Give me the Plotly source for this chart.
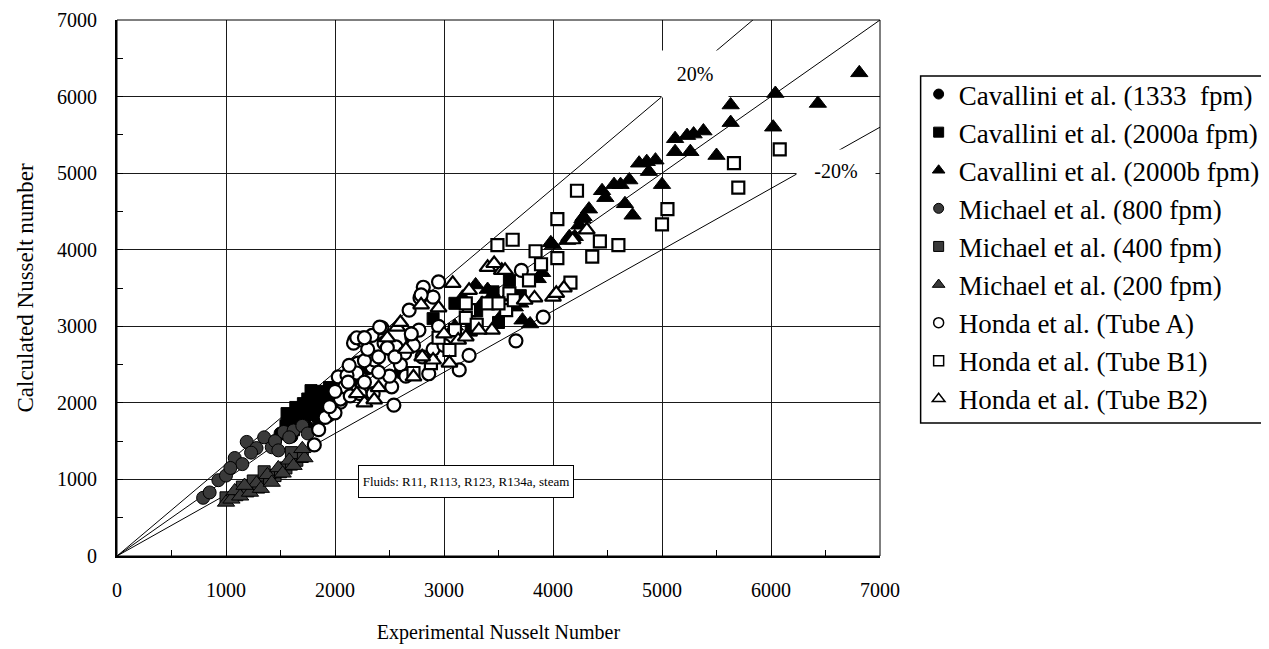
import plotly.graph_objects as go

# ---------------- data ----------------
cav1333_x = [1450, 1500, 1560, 1600, 1640, 1700, 1750, 1800, 1850, 1900, 1960, 2000, 2100, 2200, 2300, 2500, 2600, 2700]
cav1333_y = [1500, 1600, 1650, 1560, 1700, 1760, 1680, 1850, 1780, 1920, 1900, 2050, 2200, 2300, 2450, 2700, 2400, 2850]

cav2000a_x = [1550, 1580, 1600, 1620, 1650, 1680, 1700, 1720, 1750, 1760, 1800, 1830, 1850, 1880, 1900, 1950,
              1560, 1640, 1710, 1780,
              2900, 3100, 3250, 3300, 3450, 3500, 3600, 3700]
cav2000a_y = [1700, 1780, 1760, 1650, 1820, 1700, 1880, 1790, 2050, 1950, 2020, 2100, 1900, 2150, 2060, 2200,
              1860, 1940, 1990, 2160,
              3100, 3300, 2950, 3200, 3450, 3050, 3600, 3400]

cav2000b_x = [6810, 6040, 6430, 5630, 5630, 6020, 5500, 5120, 5230, 5290, 5380, 5120, 5260, 4790, 4860, 4940,
              4880, 5000, 4700, 4620, 4560, 4450, 4480, 4660, 4730, 4330, 4270, 4240, 4150, 4200, 4000, 4130,
              4280, 3290, 3170, 3400, 3350, 3650, 3720, 3790, 3700, 3550, 3980, 3860, 3450, 3100, 3580, 3900]
cav2000b_y = [6310, 6040, 5910, 5890, 5660, 5600, 5230, 5450, 5490, 5510, 5550, 5280, 5280, 5130, 5150, 5170,
              5020, 4850, 4910, 4850, 4850, 4770, 4680, 4600, 4450, 4530, 4400, 4320, 4170, 4170, 4060, 4120,
              4430, 3540, 3380, 3480, 3300, 3250, 3080, 3030, 3300, 3180, 4090, 3620, 3420, 3000, 3380, 3700]

mich800_x = [790, 850, 930, 1000, 1080, 1150, 1190, 1280, 1350, 1360, 1420, 1450, 1530, 1620, 1700, 1750,
             1040, 1230, 1480, 1580]
mich800_y = [760, 830, 990, 1050, 1280, 1200, 1490, 1410, 1550, 1030, 1420, 1500, 1620, 1640, 1700, 1600,
             1150, 1350, 1380, 1550]

mich400_x = [1000, 1100, 1150, 1200, 1250, 1300, 1400, 1450, 1500, 1550, 1600, 1650, 1700, 1350, 1600]
mich400_y = [760, 800, 900, 850, 980, 900, 1000, 1050, 1100, 1150, 1200, 1250, 1300, 1100, 1350]

mich200_x = [1000, 1050, 1080, 1130, 1220, 1280, 1320, 1380, 1420, 1480, 1520, 1580, 1620, 1720, 1170, 1700]
mich200_y = [700, 740, 850, 780, 830, 950, 880, 1060, 960, 1150, 1080, 1250, 1180, 1280, 920, 1400]

hondaA_x = [2810, 2780, 2900, 2430, 2180, 2260, 2560, 2720, 2770, 2210, 2380, 2200, 2340, 2030, 2090, 2250,
            2050, 1940, 2540, 3140, 3230, 2520, 2170, 2250, 2340, 2410, 2110, 2360, 1810, 1910, 2000, 2050,
            2140, 2230, 2350, 2120, 2270, 2130, 2270, 2400, 2450, 2300, 2680, 2790, 2200, 2270, 2480, 2640,
            2600, 2800, 2900, 3000, 2700, 2950, 3660, 3910, 2860, 2500, 2650, 1850, 1950, 2000, 2400, 2550,
            2950, 3710]
hondaA_y = [3510, 3370, 3380, 2980, 2820, 2850, 2730, 2750, 2950, 2520, 2580, 2390, 2470, 2340, 2210, 2210,
            2010, 1840, 1970, 2430, 2620, 2210, 2780, 2820, 2880, 2990, 2360, 2560, 1450, 1810, 1870, 2050,
            2090, 2120, 2120, 2270, 2270, 2490, 2550, 2600, 2780, 2700, 3210, 3410, 2850, 2850, 2720, 2650,
            2500, 2600, 2700, 2750, 2900, 3000, 2810, 3120, 2380, 2350, 2350, 1650, 1950, 2150, 2400, 2600,
            3580, 3730]

hondaB1_x = [6080, 5660, 5700, 5050, 5000, 4220, 4040, 3490, 3630, 3840, 3890, 4040, 4430, 4600, 4360, 3780,
             4160, 3600, 3570, 3400, 3230, 3200, 3200, 3640, 2880, 2720, 3050, 3300, 3100, 3500, 2950]
hondaB1_y = [5310, 5130, 4810, 4530, 4330, 4770, 4400, 4060, 4130, 3980, 3810, 3890, 4110, 4060, 3910, 3600,
             3570, 3430, 3210, 3300, 3210, 3110, 3300, 3340, 2520, 2390, 2690, 3020, 2950, 3300, 2850]

hondaB2_x = [3080, 3230, 2790, 2950, 2570, 3130, 3200, 3050, 2720, 2270, 2360, 2900, 3400, 3530, 3440, 3460,
             3560, 4000, 4100, 4180, 4310, 3830, 3740, 3320, 2480, 2650, 2600, 2400, 2800, 3000, 2200, 4030]
hondaB2_y = [3560, 3470, 3280, 3240, 2990, 2820, 2860, 2520, 2340, 2000, 2040, 2560, 3770, 3730, 2950, 3820,
             3730, 3380, 3500, 4130, 4260, 3370, 3340, 2950, 2850, 2700, 3050, 2200, 2600, 2900, 2120, 3430]

series_names = [
    "Cavallini et al. (1333 \u00a0fpm)",
    "Cavallini et al. (2000a fpm)",
    "Cavallini et al. (2000b fpm)",
    "Michael et al. (800 fpm)",
    "Michael et al. (400 fpm)",
    "Michael et al. (200 fpm)",
    "Honda et al. (Tube A)",
    "Honda et al. (Tube B1)",
    "Honda et al. (Tube B2)",
]

# reference lines y = r * x
ref_ratios = [1.2, 1.0, 0.8]
ref_x = [0, 7000]

axis_ticks = [0, 1000, 2000, 3000, 4000, 5000, 6000, 7000]
label_20 = "20%"
label_m20 = "-20%"
fluids_text = "Fluids: R11, R113, R123, R134a, steam"
x_title = "Experimental Nusselt Number"
y_title = "Calculated Nusselt number"

# ---------------- figure ----------------
FONT = "Liberation Serif"
HATCH = "#3a3a3a"
W, H = 1269, 649
L, T = 109, 12          # page body adds an 8 px offset
PW, PH = 770, 536
R, B = W - L - PW, H - T - PH


def px_to_paper_x(sx):
    return (sx - (L + 8)) / PW


def px_to_paper_y(sy):
    return 1 - (sy - (T + 8)) / PH


series = [
    (cav1333_x, cav1333_y, "circle", "black", 13),
    (cav2000a_x, cav2000a_y, "square", "black", 12),
    (cav2000b_x, cav2000b_y, "triangle-up", "black", 15),
    (mich800_x, mich800_y, "circle", HATCH, 13),
    (mich400_x, mich400_y, "square", HATCH, 12),
    (mich200_x, mich200_y, "triangle-up", HATCH, 15),
    (hondaA_x, hondaA_y, "circle", "white", 13),
    (hondaB1_x, hondaB1_y, "square", "white", 12),
    (hondaB2_x, hondaB2_y, "triangle-up", "white", 14),
]

fig = go.Figure()

for r in ref_ratios:
    fig.add_trace(go.Scatter(
        x=ref_x, y=[r * v for v in ref_x], mode="lines",
        line=dict(color="black", width=1), showlegend=False, hoverinfo="skip"))

for (xs, ys, sym, fill, size), name in zip(series, series_names):
    fig.add_trace(go.Scatter(
        x=xs, y=ys, mode="markers", name=name, legendgroup=name, showlegend=False,
        marker=dict(symbol=sym, size=size, color=fill,
                    line=dict(color="black", width=2.2 if fill == "white" else 1)),
    ))

# legend entries (smaller symbols, as in the reference legend)
for (xs, ys, sym, fill, size), name in zip(series, series_names):
    fig.add_trace(go.Scatter(
        x=[None], y=[None], mode="markers", name=name, legendgroup=name, showlegend=True,
        marker=dict(symbol=sym, size=10 if sym != "triangle-up" else 11, color=fill,
                    line=dict(color="black", width=1.5 if fill == "white" else 1)),
    ))

axis_common = dict(
    range=[0, 7000], tickvals=axis_ticks, showgrid=True, gridcolor="#1a1a1a", gridwidth=1,
    showline=True, linecolor="black", linewidth=2, zeroline=False, automargin=False,
    ticks="inside", ticklen=6, tickcolor="black", tickwidth=1,
    minor=dict(dtick=500, ticks="inside", ticklen=6, tickcolor="black", showgrid=False),
    tickfont=dict(family=FONT, size=20, color="black"),
)

fig.update_layout(
    width=W, height=H,
    margin=dict(l=L, r=R, t=T, b=B),
    paper_bgcolor="white", plot_bgcolor="white",
    font=dict(family=FONT, color="black"),
    xaxis=dict(**axis_common, ticklabelstandoff=15,
               title=dict(text=x_title, font=dict(family=FONT, size=20), standoff=25)),
    yaxis=dict(**axis_common, ticklabelstandoff=14,
               title=dict(text=y_title, font=dict(family=FONT, size=23), standoff=17)),
    legend=dict(
        x=(918 - L) / PW, y=1 - (62 - T) / PH, xanchor="left", yanchor="top",
        borderwidth=0, bgcolor="rgba(0,0,0,0)",
        font=dict(family=FONT, size=27, color="black"),
        itemwidth=30, tracegroupgap=0,
    ),
    shapes=[
        dict(type="rect", xref="paper", yref="paper", x0=0, x1=1, y0=0, y1=1,
             line=dict(color="black", width=1), layer="above"),
        dict(type="rect", xref="paper", yref="paper",
             x0=px_to_paper_x(928), x1=px_to_paper_x(1280),
             y0=px_to_paper_y(423), y1=px_to_paper_y(76),
             line=dict(color="black", width=1.5), fillcolor="white", layer="below"),
    ],
    annotations=[
        dict(x=5300, y=6292, text=label_20, showarrow=False, bgcolor="white",
             width=64, height=44, font=dict(family=FONT, size=20, color="black")),
        dict(x=6600, y=5026, text=label_m20, showarrow=False, bgcolor="white",
             width=76, height=40, font=dict(family=FONT, size=20, color="black")),
        dict(x=3200, y=970, text=fluids_text, showarrow=False, bgcolor="white",
             bordercolor="black", borderwidth=1, borderpad=0, width=214, height=31,
             font=dict(family=FONT, size=13, color="black")),
    ],
)

fig.write_html("out.html")
